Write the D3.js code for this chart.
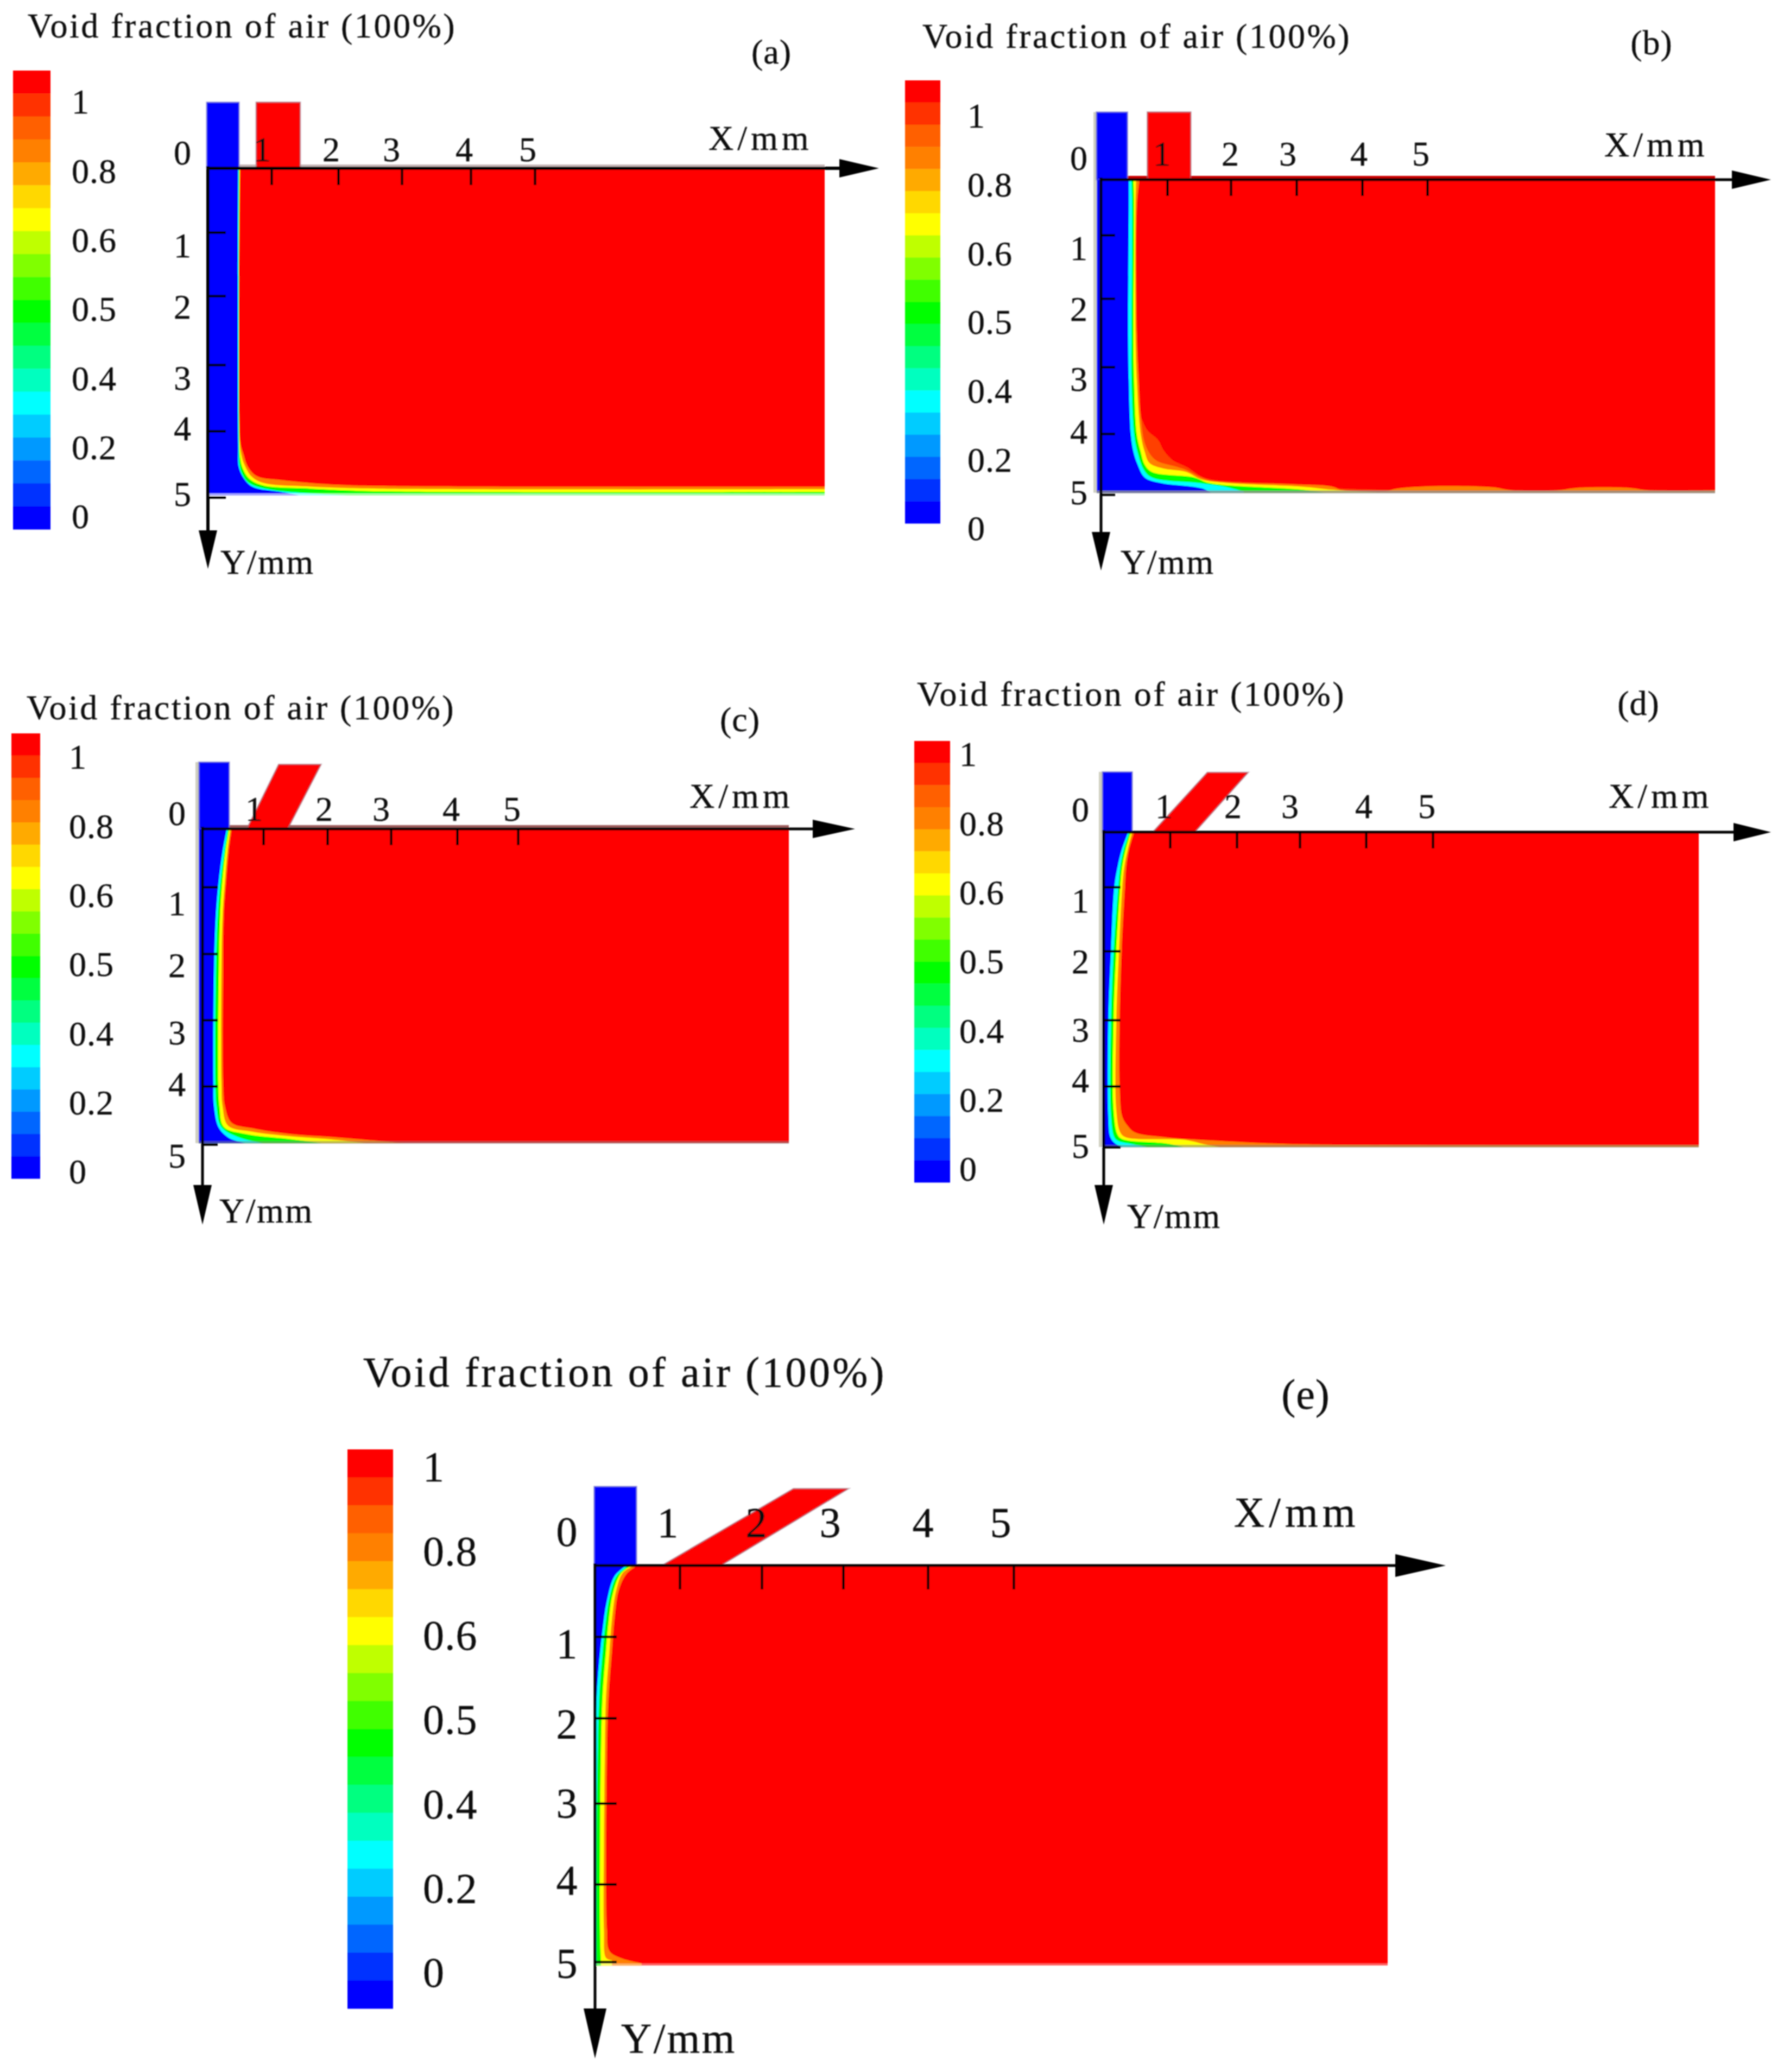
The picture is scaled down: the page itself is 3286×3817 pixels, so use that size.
<!DOCTYPE html>
<html>
<head>
<meta charset="utf-8">
<title>Void fraction of air</title>
<script src="https://cdn.jsdelivr.net/npm/d3@7"></script>
<style>
  html, body { margin: 0; background: #fff; }
  text { font-family: "Liberation Serif", serif; fill: #111; stroke: #111; stroke-width: 0.4; }
</style>
</head>
<body>
<svg id="chart" width="3286" height="3817"></svg>
<script>
// legend
const legendLabels = ["1", "0.8", "0.6", "0.5", "0.4", "0.2", "0"];
const legendColors = ["#ff0000", "#ff3000", "#ff6000", "#ff8000", "#ffaa00", "#ffd800", "#ffff00",
  "#bfff00", "#80ff00", "#40ff00", "#00ff00", "#00ff40", "#00ff80", "#00ffbf", "#00ffff",
  "#00ccff", "#0099ff", "#0066ff", "#0033ff", "#0000ff"];

const titleText = "Void fraction of air (100%)";
const tickLabels = [1, 2, 3, 4, 5];
const originLabel = "0";

// band colours between the interface contours, outermost (next to the air) first
const contourColors = ["#ff8000", "#ffff00", "#00ff00", "#00ffff", "#0000ff"];

// interface contours in mm as [x, y], one list per colour step
const contoursA = [
  [[.51,0],[.51,4.16],[.56,4.35],[.63,4.54],[.77,4.68],[1.14,4.74],[1.95,4.81],[2.8,4.83],[9.53,4.84]],
  [[.50,0],[.50,4.16],[.53,4.38],[.57,4.5],[.68,4.68],[.86,4.78],[1.6,4.84],[2.65,4.87],[9.53,4.88]],
  [[.495,0],[.495,4.16],[.51,4.42],[.55,4.57],[.65,4.72],[.86,4.82],[1.6,4.87],[2.65,4.91],[9.53,4.92]],
  [[.485,0],[.485,4.16],[.495,4.5],[.54,4.65],[.64,4.78],[.95,4.88],[1.75,4.95],[2.5,4.99]],
  [[.475,0],[.475,4.2],[.49,4.56],[.6,4.76],[.72,4.85],[1.14,4.92],[1.4,4.97]]
];
const contoursB = [
  [[.58,0],[.54,.5],[.54,2.5],[.57,3.2],[.6,3.74],[.66,4.15],[.75,4.35],[.85,4.45],[1.1,4.53],[1.31,4.6],[1.53,4.72],[1.72,4.78],[2.93,4.83],[3.55,4.87],[3.73,4.95],[4.3,4.96],[4.55,4.9],[5.2,4.86],[6,4.88],[6.3,4.93],[7,4.93],[7.3,4.89],[8.1,4.89],[8.4,4.93],[9.42,4.93]],
  [[.53,0],[.52,.5],[.52,2.5],[.54,3.2],[.6,4.01],[.66,4.3],[.73,4.48],[.93,4.57],[1.3,4.63],[1.53,4.75],[1.95,4.81],[3.07,4.87],[3.55,4.92],[4.5,4.98]],
  [[.49,0],[.5,.5],[.49,2.5],[.5,3.2],[.54,4.01],[.6,4.3],[.66,4.51],[.77,4.63],[1.43,4.72],[1.66,4.81],[3.07,4.92],[3.5,4.98]],
  [[.46,0],[.47,.5],[.46,2.5],[.46,3.2],[.5,4.01],[.55,4.3],[.65,4.6],[.77,4.72],[1.5,4.81],[1.9,4.87],[2.2,4.95]],
  [[.42,0],[.42,.5],[.41,2.5],[.42,3.2],[.45,4.01],[.49,4.3],[.55,4.5],[.66,4.72],[.9,4.81],[1.55,4.9],[1.7,4.98]]
];
// reddish bulge just outside the first contour of panel b
const bulgeB = [[.6,3.74],[.7,3.95],[.86,4.1],[.95,4.28],[1.08,4.43],[1.31,4.55],[1.53,4.7],[1.72,4.76],[2.2,4.8],[2.93,4.83],[3.6,4.9],[9.42,4.98]];
const contoursC = [
  [[.48,0],[.43,.39],[.39,.87],[.35,1.43],[.34,2.25],[.34,3.93],[.37,4.35],[.48,4.63],[.8,4.72],[1.4,4.82],[2.15,4.88],[3.2,4.98]],
  [[.46,0],[.41,.39],[.37,.87],[.33,1.43],[.31,2.25],[.31,3.93],[.33,4.35],[.42,4.68],[.8,4.78],[1.4,4.86],[2.1,4.92],[2.6,4.98]],
  [[.44,0],[.38,.39],[.33,.87],[.29,1.43],[.27,2.25],[.26,3.93],[.28,4.35],[.35,4.7],[.7,4.82],[1.4,4.91],[1.9,4.98]],
  [[.42,0],[.36,.39],[.3,.87],[.25,1.43],[.22,2.25],[.21,3.93],[.23,4.35],[.31,4.7],[.6,4.88],[1,4.98]],
  [[.40,0],[.33,.39],[.27,.87],[.22,1.43],[.19,2.25],[.18,3.93],[.19,4.35],[.27,4.72],[.45,4.9],[.7,4.98]]
];
const contoursD = [
  [[.46,0],[.38,.33],[.34,.63],[.32,1],[.27,2],[.24,3],[.24,4],[.28,4.5],[.36,4.65],[.47,4.76],[.93,4.84],[1.75,4.9],[2.85,4.95],[9.02,4.97]],
  [[.43,0],[.36,.33],[.31,.63],[.28,1],[.23,2],[.19,3],[.19,4.4],[.25,4.76],[.33,4.84],[1.2,4.88],[1.5,4.95],[1.75,5]],
  [[.41,0],[.33,.33],[.28,.63],[.25,1],[.19,2],[.15,3],[.15,4.4],[.21,4.8],[.28,4.87],[.93,4.94],[1.2,5]],
  [[.39,0],[.3,.33],[.25,.63],[.22,1],[.15,2],[.11,3],[.11,4.5],[.16,4.84],[.22,4.9],[.47,4.96],[.66,5]],
  [[.37,0],[.27,.33],[.21,.63],[.16,1],[.11,2],[.07,3],[.07,4.5],[.1,4.84],[.17,4.94],[.28,5]]
];
const contoursE = [
  [[.5,0],[.37,.12],[.28,.35],[.23,.75],[.2,1.18],[.16,1.73],[.14,2.46],[.14,4.58],[.17,4.86],[.3,4.95],[.55,5.02]],
  [[.47,0],[.33,.1],[.25,.35],[.2,.75],[.17,1.18],[.13,1.73],[.115,2.46],[.105,3.5],[.105,4.58],[.13,4.95],[.2,4.98]],
  [[.43,0],[.3,.12],[.21,.4],[.16,.8],[.13,1.18],[.09,1.73],[.07,2.46],[.06,3.5],[.06,4.58],[.07,4.98]],
  [[.4,0],[.26,.14],[.17,.45],[.12,.85],[.09,1.18],[.05,1.73],[.03,2.46],[.02,3.5],[.02,4.98]],
  [[.37,0],[.23,.15],[.14,.5],[.09,.9],[.05,1.3],[.02,1.73],[0,2.46],[0,4.98]]
];

// inlet outlines in mm: the water jet and the air jet
const waterInletA = [[-.02,0],[-.02,-1.03],[.49,-1.03],[.49,0]];
const waterInletB = [[-.07,0],[-.07,-1.22],[.40,-1.22],[.40,0]];
const waterInletC = [[-.06,0],[-.06,-1.15],[.44,-1.15],[.44,0]];
const waterInletD = [[-.02,0],[-.02,-1.1],[.43,-1.1],[.43,0]];
const waterInletE = [[-.01,0],[-.01,-1.11],[.49,-1.11],[.49,0]];
const airInletA = [[.76,0],[.76,-1.03],[1.43,-1.03],[1.43,0]];
const airInletB = [[.70,0],[.70,-1.22],[1.37,-1.22],[1.37,0]];
const airInletC = [[.73,0],[1.24,-1.11],[1.9,-1.11],[1.38,0]];
const airInletD = [[.74,0],[1.56,-1.09],[2.18,-1.09],[1.37,0]];
const airInletE = [[.79,0],[2.39,-1.08],[3.06,-1.08],[1.5,0]];

// page layout for each panel, in pixels
const layouts = [
  { name: "(a)", namePos: [1421, 95], size: 64, spacing: 3.5, axisSpacing: 7, title: [51, 47],
    legend: { x: [24, 93], y: [130, 975], labelX: 132, labelY: [187, 951] },
    xTicks: [383, 500, 623, 740, 867, 985, 1519], xMax: 9.53, xLabels: [483, 610, 721, 855, 972], xLabelY: 275,
    yTicks: [310, 428, 545, 672, 794, 916], yMax: 4.975, yLabels: [452, 565, 696, 789, 910], yLabelX: 336, zeroPos: [336, 281],
    left: 381, tickX: 31, tickY: 33, axisW: 6,
    arrowX: [1546, 1619], arrowY: [977, 1048], head: 17, labelXmm: [1305, 254], labelYmm: [406, 1035],
    contours: contoursA, bulge: null, water: waterInletA, air: airInletA,
    stripTop: "#c8b8b8", stripBottom: ["#ffffff", .65], stripLeft: null },
  { name: "(b)", namePos: [3042, 78], size: 64, spacing: 3.5, axisSpacing: 7, title: [1699, 66],
    legend: { x: [1667, 1732], y: [148, 964], labelX: 1782, labelY: [213, 973] },
    xTicks: [2028, 2150, 2267, 2388, 2509, 2629, 3159], xMax: 9.42, xLabels: [2140, 2266, 2372, 2503, 2617], xLabelY: 283,
    yTicks: [331, 433, 550, 676, 799, 911], yMax: 4.97, yLabels: [457, 569, 698, 795, 907], yLabelX: 1987, zeroPos: [1987, 291],
    left: 2020, tickX: 30, tickY: 26, axisW: 5,
    arrowX: [3190, 3262], arrowY: [980, 1051], head: 17, labelXmm: [2955, 266], labelYmm: [2064, 1035],
    contours: contoursB, bulge: bulgeB, water: waterInletB, air: airInletB,
    stripTop: "#cc0000", stripBottom: ["#909090", .8], stripLeft: "#cfcfc0" },
  { name: "(c)", namePos: [1363, 1325], size: 64, spacing: 3.5, axisSpacing: 7, title: [49, 1303],
    legend: { x: [21, 74], y: [1351, 2171], labelX: 127, labelY: [1394, 2158] },
    xTicks: [373, 485, 603, 720, 842, 954, 1453], xMax: 9.46, xLabels: [468, 597, 702, 831, 943], xLabelY: 1490,
    yTicks: [1527, 1634, 1757, 1879, 2001, 2108], yMax: 4.98, yLabels: [1664, 1778, 1902, 1997, 2129], yLabelX: 326, zeroPos: [326, 1498],
    left: 366, tickX: 30, tickY: 28, axisW: 5,
    arrowX: [1497, 1575], arrowY: [2183, 2256], head: 17, labelXmm: [1270, 1466], labelYmm: [404, 2230],
    contours: contoursC, bulge: null, water: waterInletC, air: airInletC,
    stripTop: "#a06060", stripBottom: ["#808080", .5], stripLeft: "#cfcfc0" },
  { name: "(d)", namePos: [3018, 1295], size: 64, spacing: 3.5, axisSpacing: 7, title: [1689, 1278],
    legend: { x: [1684, 1750], y: [1365, 2178], labelX: 1767, labelY: [1389, 2153] },
    xTicks: [2033, 2155, 2278, 2394, 2516, 2639, 3129], xMax: 9.02, xLabels: [2144, 2271, 2376, 2512, 2628], xLabelY: 1485,
    yTicks: [1533, 1634, 1752, 1879, 2001, 2113], yMax: 5, yLabels: [1659, 1771, 1897, 1990, 2111], yLabelX: 1990, zeroPos: [1990, 1491],
    left: 2030, tickX: 30, tickY: 31, axisW: 5,
    arrowX: [3193, 3262], arrowY: [2183, 2256], head: 17, labelXmm: [2963, 1466], labelYmm: [2076, 2240],
    contours: contoursD, bulge: null, water: waterInletD, air: airInletD,
    stripTop: null, stripBottom: ["#808080", .5], stripLeft: "#cfcfc0" },
  { name: "(e)", namePos: [2405, 2568], size: 78, spacing: 4.3, axisSpacing: 8, title: [669, 2527],
    legend: { x: [640, 724], y: [2670, 3700], labelX: 779, labelY: [2701, 3633] },
    xTicks: [1096, 1252, 1403, 1553, 1709, 1867, 2556], xMax: 9.36, xLabels: [1230, 1393, 1529, 1700, 1843], xLabelY: 2804,
    yTicks: [2884, 3015, 3165, 3322, 3471, 3614], yMax: 5.05, yLabels: [3027, 3175, 3321, 3463, 3616], yLabelX: 1044, zeroPos: [1044, 2821],
    left: 1094, tickX: 44, tickY: 40, axisW: 5,
    arrowX: [2570, 2663], arrowY: [3700, 3792], head: 21, labelXmm: [2273, 2785], labelYmm: [1144, 3754],
    contours: contoursE, bulge: null, water: waterInletE, air: airInletE,
    stripTop: null, stripBottom: ["#ffffff", .4], stripLeft: null }
];

const svg = d3.select("#chart");
const defs = svg.append("defs");
defs.append("filter").attr("id", "soft")
  .attr("filterUnits", "userSpaceOnUse")
  .attr("x", 0).attr("y", 0).attr("width", 3286).attr("height", 3817)
  .append("feGaussianBlur").attr("stdDeviation", 1);

const root = svg.append("g").attr("filter", "url(#soft)");

function addText(g, str, x, y, size, spacing, anchor) {
  g.append("text")
    .attr("x", x).attr("y", y)
    .attr("dy", "0.35em")
    .attr("text-anchor", anchor || "middle")
    .attr("font-size", size)
    .attr("letter-spacing", spacing || 0)
    .text(str);
}

function drawLegend(g, p) {
  const band = d3.scaleBand().domain(d3.range(legendColors.length)).range(p.legend.y);
  g.selectAll("rect.band").data(legendColors).enter().append("rect")
    .attr("class", "band")
    .attr("x", p.legend.x[0])
    .attr("y", (d, i) => band(i))
    .attr("width", p.legend.x[1] - p.legend.x[0])
    .attr("height", band.bandwidth() + 0.5)
    .attr("fill", d => d);

  const labelScale = d3.scalePoint().domain(legendLabels).range(p.legend.labelY);
  legendLabels.forEach(l => addText(g, l, p.legend.labelX, labelScale(l), p.size, 1, "start"));
}

function drawPanel(p, i) {
  const g = root.append("g");
  const xDomain = [0].concat(tickLabels, [p.xMax]);
  const yDomain = [0].concat(tickLabels);
  const x = d3.scaleLinear().domain(xDomain).range(p.xTicks);
  const y = d3.scaleLinear().domain(yDomain).range(p.yTicks);

  addText(g, titleText, p.title[0], p.title[1], p.size, p.spacing, "start");
  addText(g, p.name, p.namePos[0], p.namePos[1], p.size, 1);
  drawLegend(g, p);

  const outline = d3.line().x(d => x(d[0])).y(d => y(d[1]));
  const right = x(p.xMax), bottom = y(p.yMax);

  // thin pale edges left over from the screenshot of the solver window
  if (p.stripLeft) {
    g.append("rect").attr("x", p.left - 6).attr("y", y(p.water[1][1]))
      .attr("width", 8).attr("height", bottom - y(p.water[1][1]))
      .attr("fill", p.stripLeft);
  }
  if (p.stripTop) {
    g.append("rect").attr("x", x(p.water[3][0])).attr("y", y(0) - 7)
      .attr("width", right - x(p.water[3][0])).attr("height", 8)
      .attr("fill", p.stripTop);
  }

  // inlets
  g.append("path").attr("d", outline(p.air) + "Z").attr("fill", "#ff0000")
    .attr("stroke", "#9a7080").attr("stroke-opacity", .5).attr("stroke-width", 3);
  g.append("path").attr("d", outline(p.water) + "Z").attr("fill", "#0000ff")
    .attr("stroke", "#8080c8").attr("stroke-opacity", .5).attr("stroke-width", 3);

  // field: red background, then colour steps painted towards the wall
  const clipId = "field" + i;
  defs.append("clipPath").attr("id", clipId).append("rect")
    .attr("x", p.left).attr("y", y(0))
    .attr("width", right - p.left).attr("height", bottom - y(0));
  const field = g.append("g").attr("clip-path", `url(#${clipId})`);
  field.append("rect")
    .attr("x", p.left).attr("y", y(0))
    .attr("width", right - p.left).attr("height", bottom - y(0))
    .attr("fill", "#ff0000");

  const curve = d3.line().x(d => x(d[0])).y(d => y(d[1])).curve(d3.curveCatmullRom.alpha(0.5));
  const closeToWall = c => {
    const last = c[c.length - 1];
    return curve(c) + `L${x(last[0])},${bottom + 5}L${p.left},${bottom + 5}L${p.left},${y(0)}Z`;
  };
  if (p.bulge) {
    field.append("path").attr("d", closeToWall(p.bulge)).attr("fill", "#ff4000");
  }
  p.contours.forEach((c, k) => {
    field.append("path").attr("d", closeToWall(c)).attr("fill", contourColors[k]);
  });

  g.append("rect").attr("x", p.left).attr("y", bottom - 4)
    .attr("width", right - p.left).attr("height", 5)
    .attr("fill", p.stripBottom[0]).attr("opacity", p.stripBottom[1]);

  // axes
  const xAxis = g.append("g").attr("transform", `translate(0,${y(0)})`)
    .call(d3.axisBottom(x).tickValues(tickLabels).tickSize(p.tickX).tickFormat(""));
  const yAxis = g.append("g").attr("transform", `translate(${x(0)},0)`)
    .call(d3.axisRight(y).tickValues(tickLabels).tickSize(p.tickY).tickFormat(""));
  [xAxis, yAxis].forEach(a => {
    a.select(".domain").remove();
    a.selectAll("line").attr("stroke", "#000").attr("stroke-width", 4.5);
  });

  g.append("line").attr("x1", x(0)).attr("x2", p.arrowX[0]).attr("y1", y(0)).attr("y2", y(0))
    .attr("stroke", "#000").attr("stroke-width", p.axisW);
  g.append("line").attr("x1", x(0)).attr("x2", x(0)).attr("y1", y(0) - 4).attr("y2", p.arrowY[0])
    .attr("stroke", "#000").attr("stroke-width", p.axisW);
  g.append("path").attr("fill", "#000")
    .attr("d", `M${p.arrowX[0]},${y(0) - p.head}L${p.arrowX[1]},${y(0)}L${p.arrowX[0]},${y(0) + p.head}Z`);
  g.append("path").attr("fill", "#000")
    .attr("d", `M${x(0) - p.head},${p.arrowY[0]}L${x(0)},${p.arrowY[1]}L${x(0) + p.head},${p.arrowY[0]}Z`);

  // tick labels sit unevenly in the original, so they keep their own positions
  tickLabels.forEach((t, n) => {
    addText(g, t, p.xLabels[n], p.xLabelY, p.size, 0);
    addText(g, t, p.yLabelX, p.yLabels[n], p.size, 0);
  });
  addText(g, originLabel, p.zeroPos[0], p.zeroPos[1], p.size, 0);
  addText(g, "X/mm", p.labelXmm[0], p.labelXmm[1], p.size, p.axisSpacing, "start");
  addText(g, "Y/mm", p.labelYmm[0], p.labelYmm[1], p.size, p.spacing - 1, "start");
}

layouts.forEach(drawPanel);
</script>
</body>
</html>
